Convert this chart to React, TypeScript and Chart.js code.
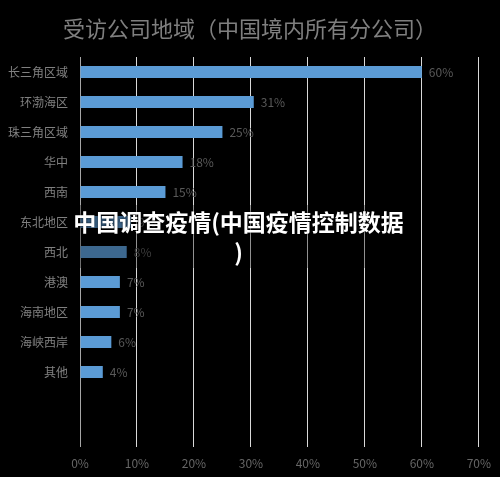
import React, { useEffect, useRef } from "react";
import { Chart, registerables } from "chart.js";

Chart.register(...registerables);

const categories = ["长三角区域", "环渤海区", "珠三角区域", "华中", "西南", "东北地区", "西北", "港澳", "海南地区", "海峡西岸", "其他", "", ""];
const values: (number | null)[] = [60, 30.5, 25, 18, 15, 9, 8.2, 7, 7, 5.5, 4, null, null];
const valueLabels = ["60%", "31%", "25%", "18%", "15%", "9%", "8%", "7%", "7%", "6%", "4%", "", ""];
const xTicks = [0, 10, 20, 30, 40, 50, 60, 70];
const titleText = "受访公司地域（中国境内所有分公司）";
const overlayText = "中国调查疫情(中国疫情控制数据)";

const FONT = "'Noto Sans CJK SC', 'Noto Sans', sans-serif";

const labelPlugin = {
  id: "barLabels",
  afterDatasetsDraw(chart: any) {
    const ctx = chart.ctx;
    const meta = chart.getDatasetMeta(0);
    ctx.save();
    ctx.font = `12px ${FONT}`;
    ctx.fillStyle = "#595959";
    ctx.textAlign = "left";
    ctx.textBaseline = "middle";
    meta.data.forEach((el: any, i: number) => {
      if (values[i] == null) return;
      ctx.fillText(valueLabels[i], el.x + 7, el.y);
    });
    ctx.restore();
  },
};

const titlePlugin = {
  id: "customTitle",
  afterDraw(chart: any) {
    const ctx = chart.ctx;
    ctx.save();
    ctx.font = `22px ${FONT}`;
    ctx.fillStyle = "#7f7f7f";
    ctx.textAlign = "center";
    ctx.textBaseline = "middle";
    ctx.fillText(titleText, 250, 29);
    ctx.restore();
  },
};

export default function App() {
  const ref = useRef<HTMLCanvasElement>(null);
  useEffect(() => {
    document.body.style.margin = "0";
    document.body.style.background = "#000";
    const chart = new Chart(ref.current!, {
      type: "bar",
      data: {
        labels: categories,
        datasets: [
          {
            data: values as any,
            backgroundColor: "#5b9bd5",
            borderWidth: 0,
            barPercentage: 0.8,
            categoryPercentage: 0.5,
          },
        ],
      },
      options: {
        indexAxis: "y",
        animation: false,
        responsive: false,
        maintainAspectRatio: false,
        layout: { padding: { top: 57, right: 21, bottom: 0, left: 0 } },
        plugins: {
          legend: { display: false },
          tooltip: { enabled: false },
          title: { display: false },
        },
        scales: {
          x: {
            min: 0,
            max: 70,
            afterFit: (s: any) => {
              s.height = 30;
            },
            afterBuildTicks: (s: any) => {
              s.ticks = xTicks.map((v) => ({ value: v }));
            },
            grid: {
              color: (c: any) => (c.index === 0 ? "#a6a6a6" : "#d9d9d9"),
              lineWidth: 1,
              drawTicks: false,
            },
            border: { display: false },
            ticks: {
              color: "#666666",
              font: { family: FONT, size: 12 },
              padding: 9,
              callback: (v: any) => v + "%",
            },
          },
          y: {
            afterFit: (s: any) => {
              s.width = 80;
            },
            grid: { display: false, drawTicks: false, tickLength: 0 },
            border: { display: false },
            ticks: {
              color: "#808080",
              font: { family: FONT, size: 12 },
              padding: 12,
              autoSkip: false,
            },
          },
        },
      },
      plugins: [labelPlugin, titlePlugin],
    });
    return () => chart.destroy();
  }, []);

  return (
    <div style={{ position: "relative", width: 500, height: 477, background: "#000" }}>
      <canvas ref={ref} width={500} height={477} style={{ display: "block" }} />
      <div
        style={{
          position: "absolute",
          left: 71,
          top: 205,
          width: 335,
          height: 63,
          background: "rgba(0,0,0,0.33)",
          color: "#fff",
          fontFamily: FONT,
          fontWeight: "bold",
          fontSize: 23,
          lineHeight: "30px",
          textAlign: "center",
          textShadow: "0 0 3px rgba(0,0,0,0.8)",
          paddingTop: 1,
          boxSizing: "border-box",
          lineBreak: "anywhere",
        } as any}
      >
        {overlayText}
      </div>
    </div>
  );
}
